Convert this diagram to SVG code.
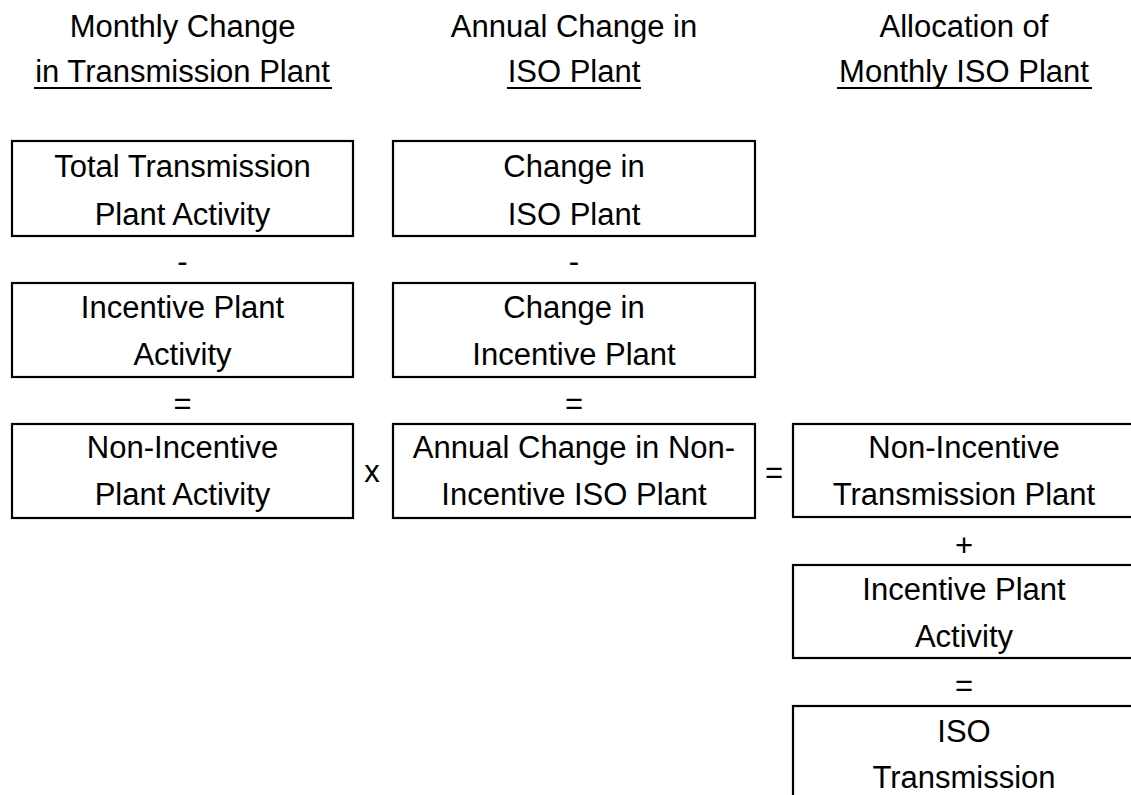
<svg xmlns="http://www.w3.org/2000/svg" width="1131" height="795" viewBox="0 0 1131 795">
<style>
text{font-family:"Liberation Sans",Arial,sans-serif;font-size:31px;fill:#000;text-anchor:middle}
.box{fill:#fff;stroke:#000;stroke-width:2.2}
.ul{stroke:#000;stroke-width:2}
</style>
<rect width="1131" height="795" fill="#fff"/>
<g id="headers">
<text x="182.5" y="37">Monthly Change</text>
<text x="182.5" y="82">in Transmission Plant</text>
<line class="ul" x1="34" y1="88" x2="332" y2="88"/>
<text x="574" y="37">Annual Change in</text>
<text x="574" y="82">ISO Plant</text>
<line class="ul" x1="507" y1="88" x2="641" y2="88"/>
<text x="964" y="37">Allocation of</text>
<text x="964" y="82">Monthly ISO Plant</text>
<line class="ul" x1="837" y1="88" x2="1092" y2="88"/>
</g>
<g id="node-total">
<rect class="box" x="12" y="141" width="341" height="95"/>
<text x="182.5" y="177">Total Transmission</text>
<text x="182.5" y="225">Plant Activity</text>
</g>
<g id="node-incentive-left">
<rect class="box" x="12" y="283" width="341" height="94"/>
<text x="182.5" y="318">Incentive Plant</text>
<text x="182.5" y="365">Activity</text>
</g>
<g id="node-nonincentive-left">
<rect class="box" x="12" y="424" width="341" height="94"/>
<text x="182.5" y="458">Non-Incentive</text>
<text x="182.5" y="505">Plant Activity</text>
</g>
<g id="node-change-iso">
<rect class="box" x="393" y="141" width="362" height="95"/>
<text x="574" y="177">Change in</text>
<text x="574" y="225">ISO Plant</text>
</g>
<g id="node-change-incentive">
<rect class="box" x="393" y="283" width="362" height="94"/>
<text x="574" y="318">Change in</text>
<text x="574" y="365">Incentive Plant</text>
</g>
<g id="node-annual">
<rect class="box" x="393" y="424" width="362" height="94"/>
<text x="574" y="458">Annual Change in Non-</text>
<text x="574" y="505">Incentive ISO Plant</text>
</g>
<g id="node-nonincentive-tp">
<rect class="box" x="793" y="424" width="350" height="93"/>
<text x="964" y="458">Non-Incentive</text>
<text x="964" y="505">Transmission Plant</text>
</g>
<g id="node-incentive-right">
<rect class="box" x="793" y="565" width="350" height="93"/>
<text x="964" y="600">Incentive Plant</text>
<text x="964" y="647">Activity</text>
</g>
<g id="node-iso-tp">
<rect class="box" x="793" y="706" width="350" height="120"/>
<text x="964" y="742">ISO</text>
<text x="964" y="788">Transmission</text>
</g>
<g id="operators">
<text x="182.5" y="272">-</text>
<text x="574" y="272">-</text>
<text x="182.5" y="414">=</text>
<text x="574" y="414">=</text>
<text x="372" y="482">x</text>
<text x="774" y="483">=</text>
<text x="964" y="556">+</text>
<text x="964" y="696">=</text>
</g>
</svg>
